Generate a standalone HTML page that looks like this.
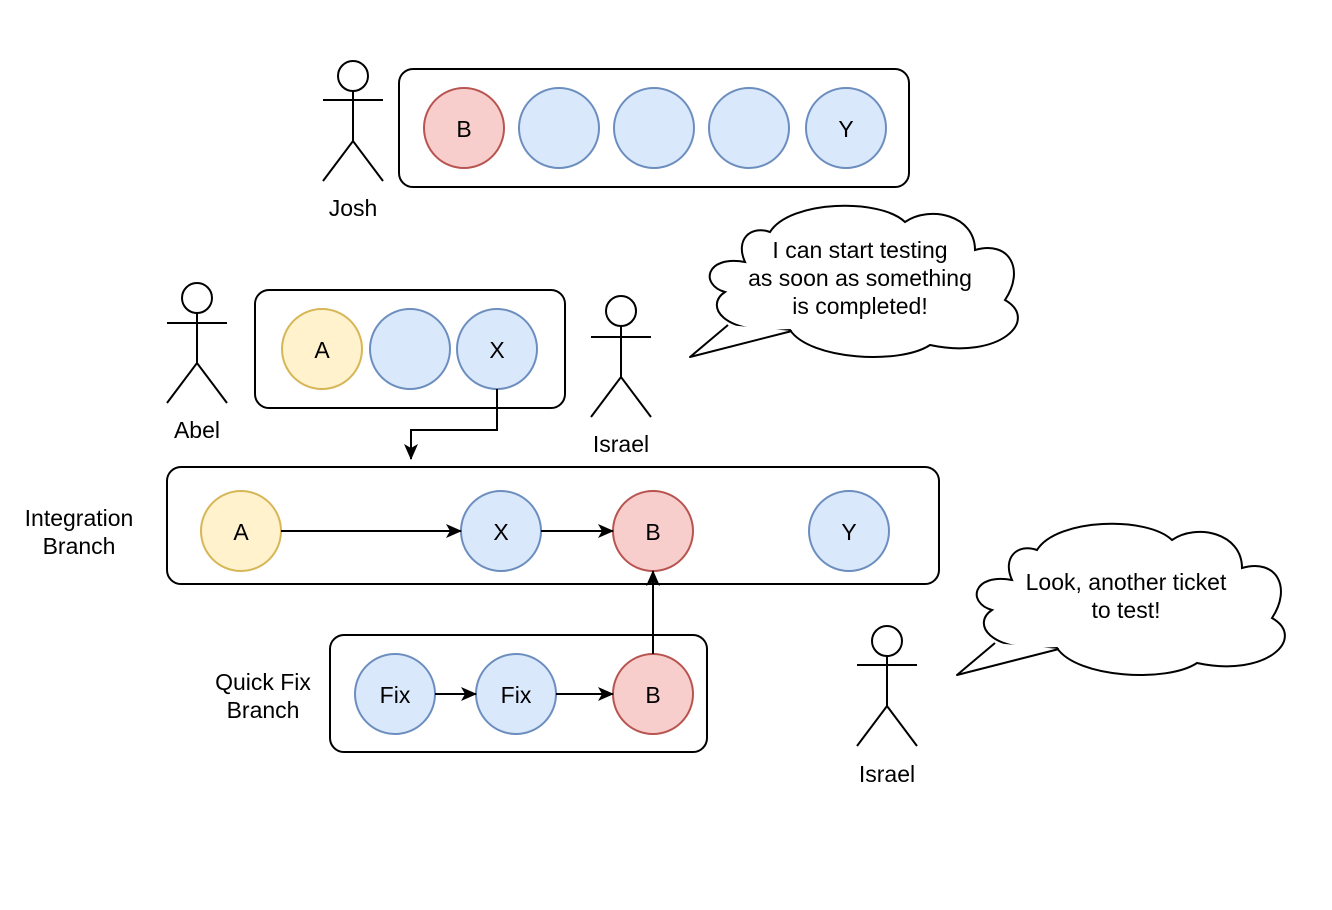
<!DOCTYPE html>
<html><head><meta charset="utf-8"><style>body{margin:0;background:#fff}svg{display:block}</style></head>
<body>
<svg width="1332" height="910" viewBox="0 0 1332 910" xmlns="http://www.w3.org/2000/svg" font-family="Liberation Sans, Arial, sans-serif" font-size="23">
<defs>
<marker id="ar" markerWidth="16" markerHeight="14" refX="15" refY="7" orient="auto" markerUnits="userSpaceOnUse"><path d="M0,0 L16,7 L0,14 L4,7 Z" fill="#000"/></marker>
<g id="cloud">
<path d="M745,262 C705,255 700,285 725,292 C705,305 720,335 790,330 C810,360 900,365 930,345 C1000,360 1040,320 1005,300 C1025,270 1010,240 975,250 C975,215 930,205 905,222 C880,198 790,200 770,232 C750,225 735,240 745,262 Z" fill="#fff" stroke="#000" stroke-width="2"/>
<path d="M728,325 L690,357 L792,331" fill="#fff" stroke="#000" stroke-width="2" stroke-linejoin="round"/>
</g>
</defs>
<g fill="none" stroke="#000" stroke-width="2">
<rect x="399" y="69" width="510" height="118" rx="14"/>
<rect x="255" y="290" width="310" height="118" rx="14"/>
<rect x="167" y="467" width="772" height="117" rx="14"/>
<rect x="330" y="635" width="377" height="117" rx="14"/>
<circle cx="353" cy="76" r="15" fill="#fff"/><path d="M353,91V141M323,100H383M323,181L353,141L383,181"/>
<circle cx="197" cy="298" r="15" fill="#fff"/><path d="M197,313V363M167,323H227M167,403L197,363L227,403"/>
<circle cx="621" cy="311" r="15" fill="#fff"/><path d="M621,326V377M591,337H651M591,417L621,377L651,417"/>
<circle cx="887" cy="641" r="15" fill="#fff"/><path d="M887,656V706M857,665H917M857,746L887,706L917,746"/>
</g>
<g stroke-width="2">
<circle cx="464" cy="128" r="40" fill="#f8cecc" stroke="#b85450"/>
<circle cx="559" cy="128" r="40" fill="#dae8fc" stroke="#6c8ebf"/>
<circle cx="654" cy="128" r="40" fill="#dae8fc" stroke="#6c8ebf"/>
<circle cx="749" cy="128" r="40" fill="#dae8fc" stroke="#6c8ebf"/>
<circle cx="846" cy="128" r="40" fill="#dae8fc" stroke="#6c8ebf"/>
<circle cx="322" cy="349" r="40" fill="#fff2cc" stroke="#d6b656"/>
<circle cx="410" cy="349" r="40" fill="#dae8fc" stroke="#6c8ebf"/>
<circle cx="497" cy="349" r="40" fill="#dae8fc" stroke="#6c8ebf"/>
<circle cx="241" cy="531" r="40" fill="#fff2cc" stroke="#d6b656"/>
<circle cx="501" cy="531" r="40" fill="#dae8fc" stroke="#6c8ebf"/>
<circle cx="653" cy="531" r="40" fill="#f8cecc" stroke="#b85450"/>
<circle cx="849" cy="531" r="40" fill="#dae8fc" stroke="#6c8ebf"/>
<circle cx="395" cy="694" r="40" fill="#dae8fc" stroke="#6c8ebf"/>
<circle cx="516" cy="694" r="40" fill="#dae8fc" stroke="#6c8ebf"/>
<circle cx="653" cy="694" r="40" fill="#f8cecc" stroke="#b85450"/>
</g>
<g fill="none" stroke="#000" stroke-width="2" marker-end="url(#ar)">
<path d="M497,389V430H411V459"/>
<path d="M281,531H461"/>
<path d="M541,531H613"/>
<path d="M435,694H476"/>
<path d="M556,694H613"/>
<path d="M653,654V571"/>
</g>
<use href="#cloud"/>
<use href="#cloud" transform="translate(267,318)"/>
<g text-anchor="middle" fill="#000">
<text x="464" y="137">B</text><text x="846" y="137">Y</text>
<text x="322" y="358">A</text><text x="497" y="358">X</text>
<text x="241" y="540">A</text><text x="501" y="540">X</text><text x="653" y="540">B</text><text x="849" y="540">Y</text>
<text x="395" y="703">Fix</text><text x="516" y="703">Fix</text><text x="653" y="703">B</text>
<text x="353" y="216">Josh</text>
<text x="197" y="438">Abel</text>
<text x="621" y="452">Israel</text>
<text x="887" y="782">Israel</text>
<text x="79" y="526">Integration</text><text x="79" y="554">Branch</text>
<text x="263" y="690">Quick Fix</text><text x="263" y="718">Branch</text>
<text x="860" y="258">I can start testing</text>
<text x="860" y="286">as soon as something</text>
<text x="860" y="314">is completed!</text>
<text x="1126" y="590">Look, another ticket</text>
<text x="1126" y="618">to test!</text>
</g>
</svg>
</body></html>
